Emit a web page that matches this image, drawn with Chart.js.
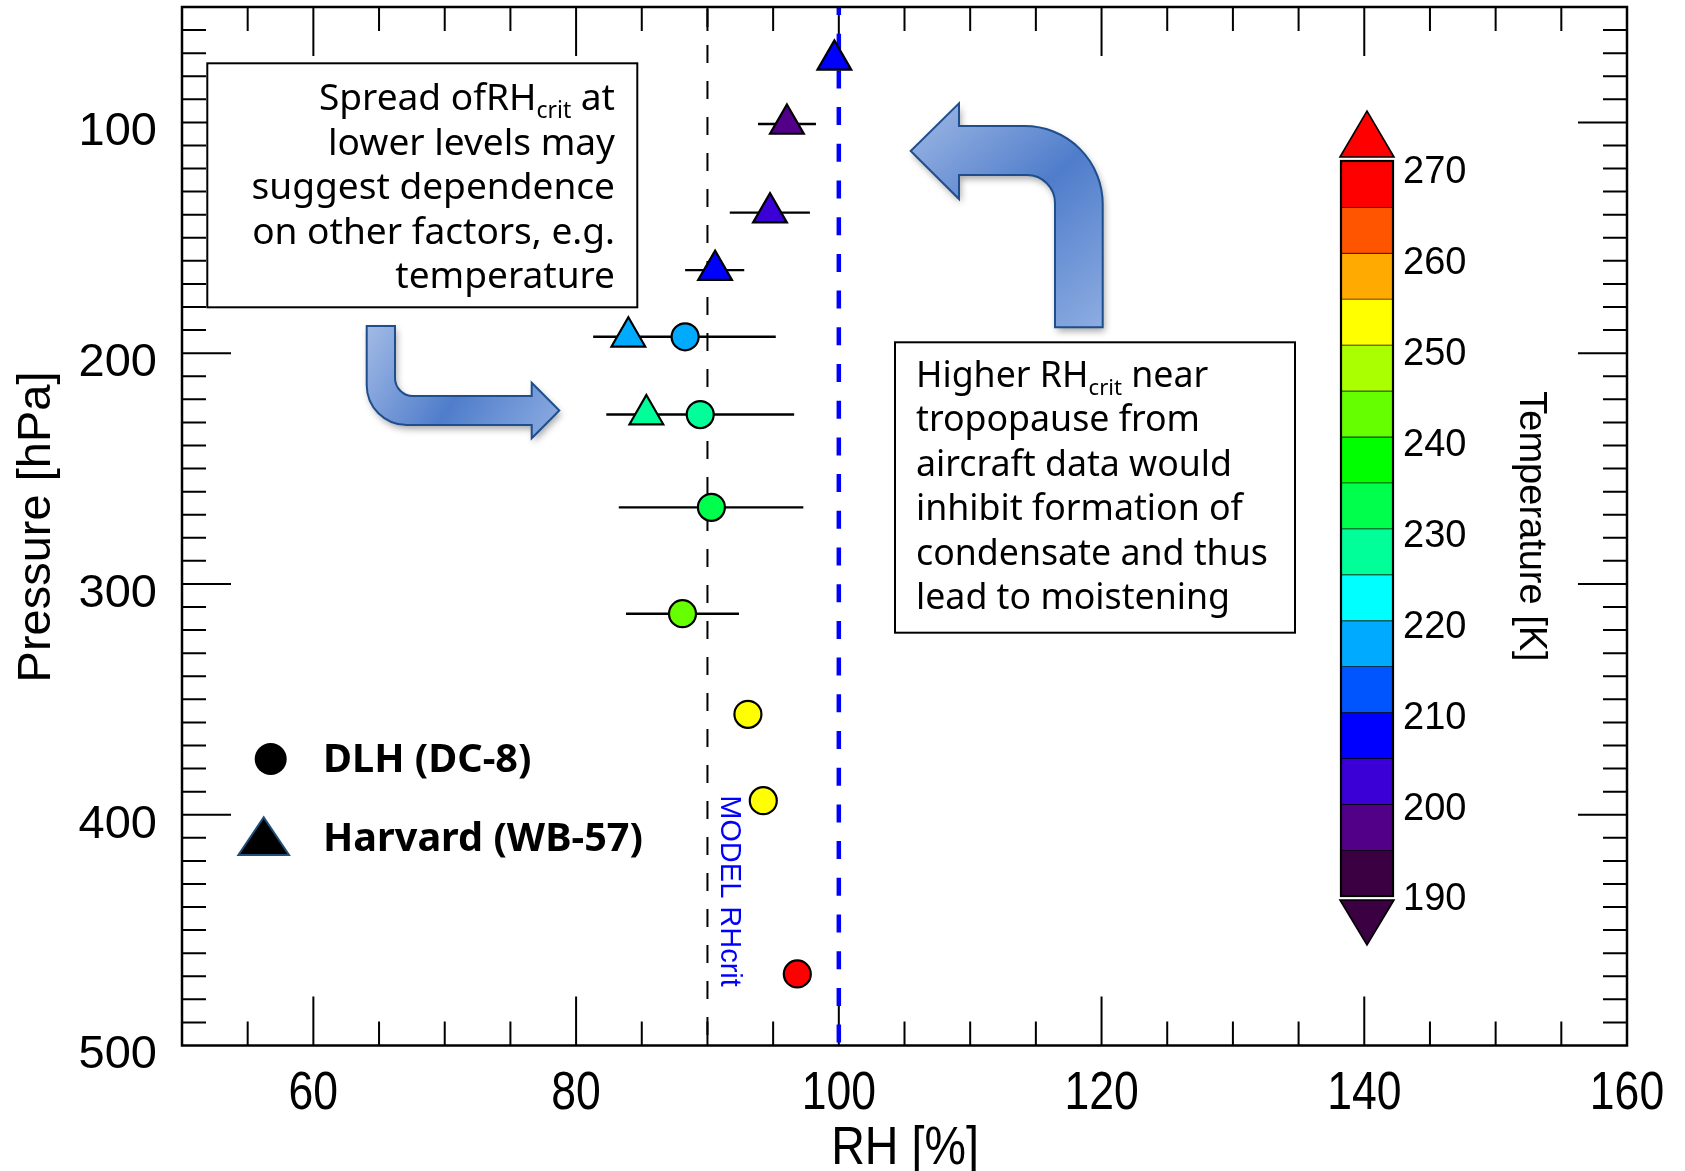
<!DOCTYPE html>
<html><head><meta charset="utf-8">
<script src="https://cdn.jsdelivr.net/npm/chart.js@4.4.1/dist/chart.umd.min.js"></script>
<style>html,body{margin:0;padding:0;background:#fff;}canvas{display:block;}</style>
</head><body>
<canvas id="c" width="1685" height="1171"></canvas>
<script>
// ---------------- data ----------------
const dlhRH      = [88.3, 89.45, 90.3, 88.1, 93.08, 94.25, 96.84];
const dlhP       = [192.9, 226.6, 266.8, 312.9, 356.5, 393.9, 469.0];
const dlhErrLow  = [81.3, 82.3, 83.25, 83.8, null, null, null];
const dlhErrHigh = [95.2, 96.6, 97.3, 92.4, null, null, null];
const dlhTemp    = [217, 227, 232, 242, 252, 252, 268];

const harvRH      = [99.66, 96.05, 94.76, 90.58, 83.98, 85.35];
const harvP       = [72.9, 100.7, 139.1, 164.0, 192.9, 226.6];
const harvErrLow  = [null, 93.85, 91.7, 88.3, 81.3, 82.3];
const harvErrHigh = [null, 98.26, 97.8, 92.8, 86.7, 88.4];
const harvTemp    = [207, 197, 202, 207, 217, 227];

const modelRHcrit = 90;
const saturationRH = 100;

const xTickValues = [60, 80, 100, 120, 140, 160];
const yTickValues = [100, 200, 300, 400, 500];
const cbLevels = [190,195,200,205,210,215,220,225,230,235,240,245,250,255,260,265,270];
const cbColors = ['#3B0042','#520088','#3A00D6','#0000FF','#0055FF','#00AAFF','#00FFFF','#00FF99',
                  '#00FF4D','#00FF00','#66FF00','#AAFF00','#FFFF00','#FFAA00','#FF5500','#FF0000'];
const cbTickValues = [190,200,210,220,230,240,250,260,270];

const note1 = [
  [{t:'Spread of'},{t:'RH'},{t:'crit',sub:true},{t:' at'}],
  [{t:'lower levels may'}],
  [{t:'suggest dependence'}],
  [{t:'on other factors, e.g.'}],
  [{t:'temperature'}]
];
const note2 = [
  [{t:'Higher RH'},{t:'crit',sub:true},{t:' near'}],
  [{t:'tropopause from'}],
  [{t:'aircraft data would'}],
  [{t:'inhibit formation of'}],
  [{t:'condensate and thus'}],
  [{t:'lead to moistening'}]
];

// ---------------- helpers ----------------
function tempColor(t){
  for (let i=0;i<cbColors.length;i++) if (t>=cbLevels[i] && t<cbLevels[i+1]) return cbColors[i];
  return t < cbLevels[0] ? cbColors[0] : cbColors[cbColors.length-1];
}
const ARIAL = "'Liberation Sans', Arial, sans-serif";
const COMIC = "'Noto Sans', 'DejaVu Sans', sans-serif";

function segFont(s, size, weight){ return `${weight} ${s.sub ? size*0.62 : size}px ${COMIC}`; }
function richWidth(ctx, segs, size, weight){
  let w=0; for (const s of segs){ ctx.font = segFont(s,size,weight); w += ctx.measureText(s.t).width; } return w;
}
function drawRich(ctx, segs, x, y, size, weight, align){
  const w = richWidth(ctx, segs, size, weight);
  let cx = align === 'right' ? x - w : x;
  ctx.textAlign = 'left'; ctx.textBaseline = 'alphabetic';
  for (const s of segs){
    ctx.font = segFont(s,size,weight);
    ctx.fillText(s.t, cx, s.sub ? y + size*0.22 : y);
    cx += ctx.measureText(s.t).width;
  }
}
function fitSize(ctx, segs, target, weight){
  const w = richWidth(ctx, segs, 100, weight);
  return 100 * target / w;
}

function arrowFill(ctx, x0,y0,x1,y1){
  const g = ctx.createLinearGradient(x0,y0,x1,y1);
  g.addColorStop(0,'#A3BBE6'); g.addColorStop(0.5,'#4F7DCB'); g.addColorStop(1,'#8FAEE2');
  return g;
}
function drawArrow1(ctx){
  ctx.save();
  ctx.beginPath();
  ctx.moveTo(366.7,326); ctx.lineTo(395,326); ctx.lineTo(395,378);
  ctx.arcTo(395,396,413,396,18);
  ctx.lineTo(531.7,396); ctx.lineTo(531.7,382.7); ctx.lineTo(559.3,410.5);
  ctx.lineTo(531.7,438.3); ctx.lineTo(531.7,425);
  ctx.arcTo(366.7,425,366.7,326,40);
  ctx.closePath();
  ctx.shadowColor='rgba(0,0,0,0.35)'; ctx.shadowBlur=7; ctx.shadowOffsetX=2; ctx.shadowOffsetY=4;
  ctx.fillStyle = arrowFill(ctx,366,326,560,440); ctx.fill();
  ctx.shadowColor='transparent';
  ctx.strokeStyle='#1F4E8C'; ctx.lineWidth=2; ctx.stroke();
  ctx.restore();
}
function drawArrow2(ctx){
  ctx.save();
  ctx.beginPath();
  ctx.moveTo(910.7,151); ctx.lineTo(959,103.3); ctx.lineTo(959,126);
  ctx.arcTo(1102.7,126,1102.7,327.3,78);
  ctx.lineTo(1102.7,327.3); ctx.lineTo(1055,327.3);
  ctx.arcTo(1055,175,959,175,28);
  ctx.lineTo(959,175); ctx.lineTo(959,199);
  ctx.closePath();
  ctx.shadowColor='rgba(0,0,0,0.35)'; ctx.shadowBlur=7; ctx.shadowOffsetX=2; ctx.shadowOffsetY=4;
  ctx.fillStyle = arrowFill(ctx,910,100,1105,330); ctx.fill();
  ctx.shadowColor='transparent';
  ctx.strokeStyle='#1F4E8C'; ctx.lineWidth=2; ctx.stroke();
  ctx.restore();
}

// ---------------- plugin ----------------
const decor = {
  id:'decor',
  beforeDatasetsDraw(chart){
    const {ctx, chartArea:a, scales:{x,y}} = chart;
    ctx.save();
    // error bars
    ctx.strokeStyle='#000'; ctx.lineWidth=2.4;
    ctx.beginPath();
    const bars = (lo,hi,ps)=>{ for(let i=0;i<ps.length;i++){ if(lo[i]==null) continue;
      const py = y.getPixelForValue(ps[i]);
      ctx.moveTo(x.getPixelForValue(lo[i]),py); ctx.lineTo(x.getPixelForValue(hi[i]),py);} };
    bars(dlhErrLow,dlhErrHigh,dlhP); bars(harvErrLow,harvErrHigh,harvP);
    ctx.stroke();
    // ticks (inward, all four sides)
    ctx.lineWidth=2; ctx.beginPath();
    const MAJ=49, MIN=24;
    for (let v=x.min+5; v<x.max; v+=5){
      const px = x.getPixelForValue(v);
      const L = xTickValues.includes(v) ? MAJ : MIN;
      ctx.moveTo(px,a.bottom); ctx.lineTo(px,a.bottom-L);
      ctx.moveTo(px,a.top); ctx.lineTo(px,a.top+L);
    }
    for (let v=y.min+10; v<y.max; v+=10){
      const py = y.getPixelForValue(v);
      const L = yTickValues.includes(v) ? MAJ : MIN;
      ctx.moveTo(a.left,py); ctx.lineTo(a.left+L,py);
      ctx.moveTo(a.right,py); ctx.lineTo(a.right-L,py);
    }
    ctx.stroke();
    ctx.restore();
  },
  afterDraw(chart){
    const {ctx, chartArea:a, scales:{x,y}} = chart;
    ctx.save();
    // frame
    ctx.strokeStyle='#000'; ctx.lineWidth=2.5;
    ctx.strokeRect(a.left,a.top,a.right-a.left,a.bottom-a.top);

    // tick labels
    ctx.fillStyle='#000';
    ctx.font = `47px ${ARIAL}`; ctx.textAlign='right'; ctx.textBaseline='middle';
    for (const v of yTickValues) ctx.fillText(String(v), 157, y.getPixelForValue(v)+10);
    ctx.font = `53px ${ARIAL}`; ctx.textAlign='center'; ctx.textBaseline='alphabetic';
    for (const v of xTickValues){
      ctx.save(); ctx.translate(x.getPixelForValue(v),1109); ctx.scale(0.84,1);
      ctx.fillText(String(v),0,0); ctx.restore();
    }
    // axis titles
    ctx.save(); ctx.translate(905,1164); ctx.scale(0.88,1);
    ctx.font=`53px ${ARIAL}`; ctx.textAlign='center'; ctx.fillText('RH [%]',0,0); ctx.restore();
    ctx.save(); ctx.translate(50.3,527); ctx.rotate(-Math.PI/2);
    ctx.font=`47px ${ARIAL}`; ctx.textAlign='center'; ctx.fillText('Pressure [hPa]',0,0); ctx.restore();
    ctx.save(); ctx.translate(1519.7,526.5); ctx.rotate(Math.PI/2);
    ctx.font=`38px ${ARIAL}`; ctx.textAlign='center'; ctx.fillText('Temperature [K]',0,0); ctx.restore();
    // model label
    ctx.save(); ctx.translate(720.7,891); ctx.rotate(Math.PI/2);
    ctx.fillStyle='#0000FF'; ctx.font=`29px ${ARIAL}`; ctx.textAlign='center'; ctx.fillText('MODEL RHcrit',0,0); ctx.restore();

    // annotation boxes
    ctx.fillStyle='#fff'; ctx.strokeStyle='#000'; ctx.lineWidth=2;
    ctx.fillRect(207.3,63.3,430,244); ctx.strokeRect(207.3,63.3,430,244);
    ctx.fillRect(895,342.3,400,290.4); ctx.strokeRect(895,342.3,400,290.4);
    ctx.fillStyle='#000';
    const s1 = fitSize(ctx, note1[3], 363, 'normal');
    note1.forEach((ln,i)=>drawRich(ctx, ln, 615, 110 + i*44.5, s1, 'normal', 'right'));
    const s2 = fitSize(ctx, note2[4], 352, 'normal');
    note2.forEach((ln,i)=>drawRich(ctx, ln, 916, 386.7 + i*44.5, s2, 'normal', 'left'));

    // arrows
    drawArrow1(ctx); drawArrow2(ctx);

    // legend
    ctx.fillStyle='#000';
    ctx.beginPath(); ctx.arc(270.7,759,16,0,Math.PI*2); ctx.fill();
    ctx.beginPath(); ctx.moveTo(263.7,817.3); ctx.lineTo(289,855); ctx.lineTo(238.4,855); ctx.closePath();
    ctx.fill(); ctx.strokeStyle='#1F4E79'; ctx.lineWidth=2; ctx.stroke();
    const lg2 = [{t:'Harvard (WB-57)'}], lg1 = [{t:'DLH (DC-8)'}];
    const sl = fitSize(ctx, lg2, 320, 'bold');
    ctx.fillStyle='#000';
    drawRich(ctx, lg1, 323, 771.7, sl, 'bold', 'left');
    drawRich(ctx, lg2, 323, 850.7, sl, 'bold', 'left');

    // colorbar
    const cx0=1341, cx1=1393, ctop=161, cbot=896;
    const vmin=cbLevels[0], vmax=cbLevels[cbLevels.length-1];
    const cy = v => cbot - (v-vmin)/(vmax-vmin)*(cbot-ctop);
    const ly = v => 900 - (v-vmin)/(vmax-vmin)*(900-173);
    ctx.lineWidth=1.6; ctx.strokeStyle='#000';
    for (let i=0;i<cbColors.length;i++){
      const yt = cy(cbLevels[i+1]), yb = cy(cbLevels[i]);
      ctx.fillStyle=cbColors[i]; ctx.fillRect(cx0,yt,cx1-cx0,yb-yt);
      ctx.beginPath(); ctx.moveTo(cx0,yt); ctx.lineTo(cx1,yt); ctx.stroke();
    }
    ctx.lineWidth=2.2; ctx.strokeRect(cx0,ctop,cx1-cx0,cbot-ctop);
    ctx.lineWidth=1.6;
    ctx.beginPath(); ctx.moveTo(cx0-1,157); ctx.lineTo((cx0+cx1)/2,111); ctx.lineTo(cx1+1,157); ctx.closePath();
    ctx.fillStyle=cbColors[cbColors.length-1]; ctx.fill(); ctx.stroke();
    ctx.beginPath(); ctx.moveTo(cx0-1,900); ctx.lineTo((cx0+cx1)/2,945); ctx.lineTo(cx1+1,900); ctx.closePath();
    ctx.fillStyle=cbColors[0]; ctx.fill(); ctx.stroke();
    ctx.fillStyle='#000'; ctx.font=`38px ${ARIAL}`; ctx.textAlign='left'; ctx.textBaseline='middle';
    for (const v of cbTickValues) ctx.fillText(String(v), 1403, ly(v));
    ctx.restore();
  }
};

// ---------------- chart ----------------
new Chart(document.getElementById('c'), {
  type:'scatter',
  data:{
    datasets:[
      { label:'DLH (DC-8)', data: dlhRH.map((v,i)=>({x:v,y:dlhP[i]})),
        pointStyle:'circle', pointRadius:13.5, pointHoverRadius:13.5,
        pointBackgroundColor: dlhTemp.map(tempColor), pointBorderColor:'#000', pointBorderWidth:2.2, order:1 },
      { label:'Harvard (WB-57)', data: harvRH.map((v,i)=>({x:v,y:harvP[i]})),
        pointStyle:'triangle', pointRadius:19.5, pointHoverRadius:19.5,
        pointBackgroundColor: harvTemp.map(tempColor), pointBorderColor:'#000', pointBorderWidth:2.2, order:2 },
      { type:'line', label:'model', data:[{x:modelRHcrit,y:50},{x:modelRHcrit,y:500}],
        borderColor:'#000', borderWidth:2, borderDash:[18,18], borderDashOffset:34,
        pointRadius:0, fill:false, showLine:true, order:5 },
      { type:'line', label:'sat', data:[{x:saturationRH,y:50},{x:saturationRH,y:500}],
        borderColor:'#0000FF', borderWidth:4.5, borderDash:[18,18.7], borderDashOffset:10,
        pointRadius:0, fill:false, showLine:true, order:4 }
    ]
  },
  options:{
    responsive:false, animation:false, events:[],
    layout:{autoPadding:false, padding:{left:182, right:58, top:7, bottom:125.5}},
    plugins:{legend:{display:false}, tooltip:{enabled:false}},
    scales:{
      x:{type:'linear', min:50, max:160, display:false},
      y:{type:'linear', min:50, max:500, reverse:true, display:false}
    }
  },
  plugins:[decor]
});
</script>
</body></html>
